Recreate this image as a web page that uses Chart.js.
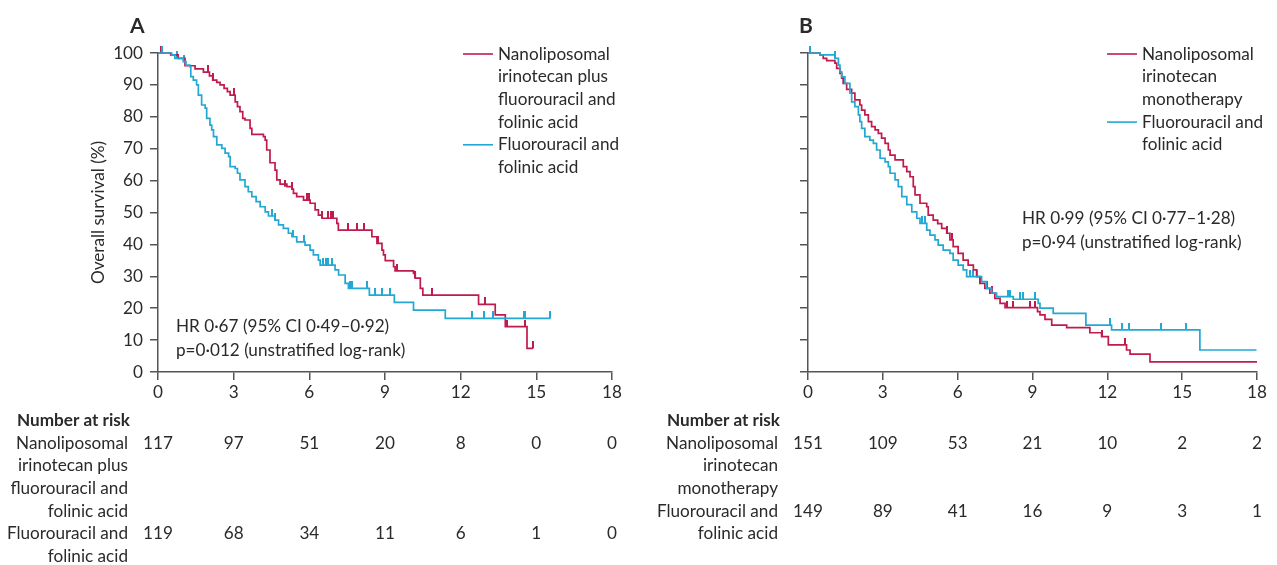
<!DOCTYPE html>
<html><head><meta charset="utf-8">
<script src="https://cdn.jsdelivr.net/npm/chart.js@4/dist/chart.umd.min.js"></script>
<style>
html,body{margin:0;padding:0;background:#fff;}
#wrap{position:relative;width:1277px;height:565px;overflow:hidden;background:#fff;}
#cA{position:absolute;left:0;top:0;width:640px;height:565px;}
#cB{position:absolute;left:640px;top:0;width:637px;height:565px;}
</style></head><body>
<div id="wrap"><canvas id="cA" width="640" height="565"></canvas><canvas id="cB" width="637" height="565"></canvas></div>
<script>
// ---------- DATA ----------
const xTicks = [0, 3, 6, 9, 12, 15, 18];
const yTicks = [0, 10, 20, 30, 40, 50, 60, 70, 80, 90, 100];

// Panel A: Nanoliposomal irinotecan plus fluorouracil and folinic acid (red)
const aRedT = [0,0.5,0.8,1.07,1.47,1.8,2.04,2.17,2.33,2.46,2.62,2.75,2.86,3.06,3.15,3.25,3.36,3.45,3.65,3.72,4.18,4.25,4.31,4.44,4.64,4.71,4.84,5.11,5.31,5.37,5.5,5.77,6.03,6.23,6.36,6.5,7.09,7.15,8.48,8.68,8.88,8.94,9.01,9.34,9.4,10.13,10.2,10.4,10.5,12.71,13.37,13.77,14.63,14.87];
const aRedS = [100,99.4,98.3,96,95,94,92.8,91.5,90.8,90,88.9,87.9,86.8,84.7,83.2,81.6,79.5,79,76.4,74.5,73.8,72.7,69.6,65.6,63.3,60.2,58.9,58.1,57.3,56,55,53.9,52.9,50.8,49.2,48.2,46.6,44.5,42.4,40.3,38.2,36.7,34.9,33,31.7,30.9,29.4,26.2,24.1,21.2,17.9,14.2,7.4,7.4];
// Panel A: Fluorouracil and folinic acid (blue)
const aBlueT = [0,0.54,0.67,1.0,1.11,1.27,1.3,1.4,1.53,1.6,1.73,1.87,1.93,2.06,2.13,2.2,2.33,2.53,2.66,2.8,2.86,3.06,3.15,3.25,3.45,3.58,3.72,3.89,4.05,4.25,4.38,4.64,4.78,4.97,5.17,5.31,5.5,5.83,6.03,6.16,6.36,6.43,7.02,7.16,7.42,7.55,8.38,9.37,10.13,11.39,15.56];
const aBlueS = [100,99.4,98.3,97.3,96.2,95.7,92.6,91.5,90,86.8,83.7,82.7,79.5,77.4,75.9,73.8,71.2,70.1,68.6,67.5,64.4,63.8,62.3,60.2,58.1,56.5,55,53.4,51.8,50.2,48.9,47.6,46.1,45,43.5,42.4,40.8,39.8,38.2,36.7,35.1,33.5,32,30.4,27.8,26.2,24.1,21.8,19.4,16.8,16.8];
// Panel A censoring marks
const aRedCensT = [0.1,2.0,2.2,3.0,5.04,5.3,5.9,6.0,6.5,6.75,6.85,6.95,7.54,7.88,8.15,8.74,9.47,10.2,10.86,12.98,13.84,14.56,14.87];
const aRedCensS = [100,94,91.5,86.8,58.1,57.3,53.9,53.9,48.2,48.2,48.2,48.2,44.5,44.5,44.5,40.3,31.7,29.4,24.1,21.2,14.2,14.2,7.4];
const aBlueCensT = [0.15,0.74,1.05,4.5,4.64,5.37,5.77,6.55,6.65,6.75,6.9,7.62,7.69,8.28,8.61,8.88,9.21,12.45,12.91,13.28,14.52,14.56,15.56];
const aBlueCensS = [100,98.3,97.3,48.9,47.6,42.4,40.8,33.5,33.5,33.5,33.5,26.2,26.2,26.2,24.1,24.1,24.1,16.8,16.8,16.8,16.8,16.8,16.8];

// Panel B: Nanoliposomal irinotecan monotherapy (red)
const bRedT = [0,0.48,0.61,0.75,1.08,1.15,1.28,1.35,1.41,1.55,1.75,1.88,2.08,2.15,2.28,2.42,2.55,2.69,2.82,2.95,3.09,3.22,3.29,3.49,3.82,3.96,4.09,4.22,4.29,4.49,4.76,4.82,5.02,5.2,5.36,5.56,5.69,5.82,6.02,6.22,6.42,6.63,6.76,6.89,7.09,7.29,7.49,7.7,7.9,9.2,9.3,9.5,9.77,10.37,11.3,11.77,12.04,12.77,12.91,13.71,18];
const bRedS = [100,99.4,98.3,97.6,96.8,95.2,93.6,92.1,90.5,88.6,87.4,85.3,83.7,82.1,80.6,78.5,76.9,75.9,74.8,73.3,71.7,69.6,68,66.5,64.4,62.8,61.2,58.1,55.5,52.9,51.8,49.2,47.6,46.5,45,43.5,41.4,39.3,37.2,35.1,33.5,32,29.9,27.8,26.2,24.7,23.1,21.5,20.2,18.9,17.9,16.5,14.7,13.9,12.3,11.1,8.5,6.9,5.6,3.2,3.2];
// Panel B: Fluorouracil and folinic acid (blue)
const bBlueT = [0,0.48,1.08,1.22,1.28,1.35,1.48,1.68,1.75,1.88,2.02,2.08,2.15,2.28,2.48,2.62,2.75,2.89,3.09,3.22,3.29,3.49,3.62,3.76,3.96,4.16,4.36,4.49,4.76,4.89,5.09,5.22,5.42,5.69,5.82,6.02,6.22,6.36,6.96,7.16,7.36,7.56,8.23,9.23,9.3,9.83,11.14,12.17,15.71,17.98];
const bBlueS = [100,99.4,98.3,96.2,94.1,92.5,90.5,87.4,84.7,83.2,80.6,78.5,76.4,73.8,72.7,71.7,69.6,67,65.9,64.4,62.3,60.2,58.1,55,52.5,50.2,48.2,46.6,44.5,42.9,41.4,39.8,38.2,37.2,35.1,33.5,32,29.9,28.3,26.2,24.7,23.6,22.8,21.5,20,18.4,14.7,13.2,6.9,6.9];
// Panel B censoring marks
const bRedCensT = [0.1,5.56,5.76,6.9,7.16,7.36,7.96,8.2,8.9,9.1,11.8,12.7];
const bRedCensS = [100,43.5,41.4,27.8,26.2,24.7,20.2,20.2,20.2,20.2,11.1,8.5];
const bBlueCensT = [0.1,1.08,4.56,4.69,6.5,6.6,6.76,8.03,8.1,8.5,8.63,9.1,12.1,12.57,12.88,14.17,15.15];
const bBlueCensS = [100,98.3,46.6,46.6,29.9,29.9,29.9,23.6,23.6,22.8,22.8,22.8,14.7,13.2,13.2,13.2,13.2];

// Number at risk
const riskTimes = [0, 3, 6, 9, 12, 15, 18];
const riskA_nal = [117, 97, 51, 20, 8, 0, 0];
const riskA_ctl = [119, 68, 34, 11, 6, 1, 0];
const riskB_nal = [151, 109, 53, 21, 10, 2, 2];
const riskB_ctl = [149, 89, 41, 16, 9, 3, 1];

// Labels
const labA_nal = ['Nanoliposomal', 'irinotecan plus', 'fluorouracil and', 'folinic acid'];
const labB_nal = ['Nanoliposomal', 'irinotecan', 'monotherapy'];
const lab_ctl = ['Fluorouracil and', 'folinic acid'];
const hrA = ['HR 0·67 (95% CI 0·49–0·92)', 'p=0·012 (unstratified log-rank)'];
const hrB = ['HR 0·99 (95% CI 0·77–1·28)', 'p=0·94 (unstratified log-rank)'];
const yTitle = 'Overall survival (%)';

// ---------- STYLE ----------
const RED = '#bf1b4c';
const BLUE = '#22a8d3';
const AXIS = '#555555';
const TXT = '#2a2a2a';
const FAM = 'Lato, "Open Sans", sans-serif';

function pts(T, S) { return T.map((t, i) => ({ x: t, y: S[i] })); }
function tickImg(color) {
  const c = document.createElement('canvas');
  c.width = 2; c.height = 14;
  const g = c.getContext('2d');
  g.fillStyle = color; g.fillRect(0, 0, 2, 7);
  return c;
}

function fontSize() {
  const c = document.createElement('canvas').getContext('2d');
  c.font = '16px ' + FAM;
  const w = c.measureText('Nanoliposomal').width;
  return Math.max(14, Math.min(18, 16 * 112 / w));
}

function build(canvasId, cfg) {
  const FS = cfg.fs;
  const textPlugin = {
    id: 'txt' + canvasId,
    afterDraw(chart) {
      const ctx = chart.ctx;
      const xs = chart.scales.x;
      ctx.save();
      ctx.fillStyle = TXT;
      // panel letter
      ctx.font = 'bold 21px ' + FAM;
      ctx.textAlign = 'left'; ctx.textBaseline = 'alphabetic';
      ctx.fillText(cfg.letter, cfg.letterX, 33);
      // legend
      ctx.font = FS + 'px ' + FAM;
      ctx.textBaseline = 'middle';
      let y = 54;
      const drawEntry = (lines, color) => {
        ctx.strokeStyle = color; ctx.lineWidth = 1.6;
        ctx.beginPath(); ctx.moveTo(cfg.legX, y); ctx.lineTo(cfg.legX + 30, y); ctx.stroke();
        lines.forEach((l) => { ctx.fillStyle = TXT; ctx.fillText(l, cfg.legX + 35, y); y += 22.7; });
      };
      drawEntry(cfg.nalLab, RED);
      drawEntry(lab_ctl, BLUE);
      // HR text
      ctx.fillStyle = TXT;
      ctx.fillText(cfg.hr[0], cfg.hrX, cfg.hrY);
      ctx.fillText(cfg.hr[1], cfg.hrX, cfg.hrY + 24);
      // number at risk table
      ctx.textAlign = 'right';
      ctx.font = 'bold ' + FS + 'px ' + FAM;
      ctx.fillText('Number at risk', cfg.tabX + 2, 420);
      ctx.font = FS + 'px ' + FAM;
      let ty = 443;
      const rowY1 = ty;
      cfg.nalLab.forEach((l) => { ctx.fillText(l, cfg.tabX, ty); ty += 22.7; });
      const rowY2 = ty;
      lab_ctl.forEach((l) => { ctx.fillText(l, cfg.tabX, ty); ty += 22.7; });
      ctx.textAlign = 'center';
      riskTimes.forEach((t, i) => {
        const px = xs.getPixelForValue(t);
        ctx.fillText(String(cfg.risk1[i]), px, rowY1);
        ctx.fillText(String(cfg.risk2[i]), px, rowY2);
      });
      ctx.restore();
    }
  };

  const lineDs = (data, color) => ({
    type: 'line', data, borderColor: color, backgroundColor: color, borderWidth: 1.7,
    pointRadius: 0, stepped: 'before', fill: false, tension: 0, clip: 4
  });
  const censDs = (data, color) => ({
    type: 'scatter', data, showLine: false, pointStyle: tickImg(color), pointRadius: 4,
    borderColor: color, backgroundColor: color, clip: false
  });

  return new Chart(document.getElementById(canvasId), {
    type: 'line',
    data: {
      datasets: [
        lineDs(cfg.blue, BLUE),
        lineDs(cfg.red, RED),
        censDs(cfg.blueC, BLUE),
        censDs(cfg.redC, RED)
      ]
    },
    options: {
      responsive: false, animation: false, devicePixelRatio: 1,
      layout: { padding: cfg.pad },
      plugins: { legend: { display: false }, tooltip: { enabled: false } },
      scales: {
        x: {
          type: 'linear', min: 0, max: 18,
          afterBuildTicks: (s) => { s.ticks = xTicks.map((v) => ({ value: v })); },
          ticks: { font: { family: FAM, size: FS }, color: TXT, padding: 2, maxRotation: 0 },
          grid: { drawOnChartArea: false, drawTicks: true, tickLength: 8, color: AXIS, lineWidth: 1.5 },
          border: { display: true, color: AXIS, width: 1.5 },
          afterFit: (s) => { s.height = 30; }
        },
        y: {
          type: 'linear', min: 0, max: 100,
          afterBuildTicks: (s) => { s.ticks = yTicks.map((v) => ({ value: v })); },
          ticks: { font: { family: FAM, size: FS }, color: TXT, padding: 7,
            callback: (v) => (cfg.yLabels ? String(v) : '') },
          grid: { drawOnChartArea: false, drawTicks: true, tickLength: 8, color: AXIS, lineWidth: 1.5 },
          border: { display: true, color: AXIS, width: 1.5 },
          title: { display: cfg.yLabels, text: yTitle, font: { family: FAM, size: FS }, color: TXT, padding: 0 },
          afterFit: (s) => { s.width = cfg.yW; }
        }
      }
    },
    plugins: [textPlugin]
  });
}

function go() {
  const fs = fontSize();
  build('cA', {
    fs, letter: 'A', letterX: 130, legX: 463, nalLab: labA_nal, hr: hrA, hrX: 176, hrY: 326,
    tabX: 128, risk1: riskA_nal, risk2: riskA_ctl, yLabels: true, yW: 70,
    pad: { left: 88, top: 53, right: 28, bottom: 163 },
    red: pts(aRedT, aRedS), blue: pts(aBlueT, aBlueS),
    redC: pts(aRedCensT, aRedCensS), blueC: pts(aBlueCensT, aBlueCensS)
  });
  build('cB', {
    fs, letter: 'B', letterX: 159, legX: 467, nalLab: labB_nal, hr: hrB, hrX: 382, hrY: 218,
    tabX: 138, risk1: riskB_nal, risk2: riskB_ctl, yLabels: false, yW: 10,
    pad: { left: 158, top: 53, right: 20, bottom: 163 },
    red: pts(bRedT, bRedS), blue: pts(bBlueT, bBlueS),
    redC: pts(bRedCensT, bRedCensS), blueC: pts(bBlueCensT, bBlueCensS)
  });
}
if (document.fonts && document.fonts.load) {
  Promise.all([document.fonts.load('16px Lato'), document.fonts.load('bold 16px Lato')]).then(go, go);
} else { go(); }
</script>
</body></html>
